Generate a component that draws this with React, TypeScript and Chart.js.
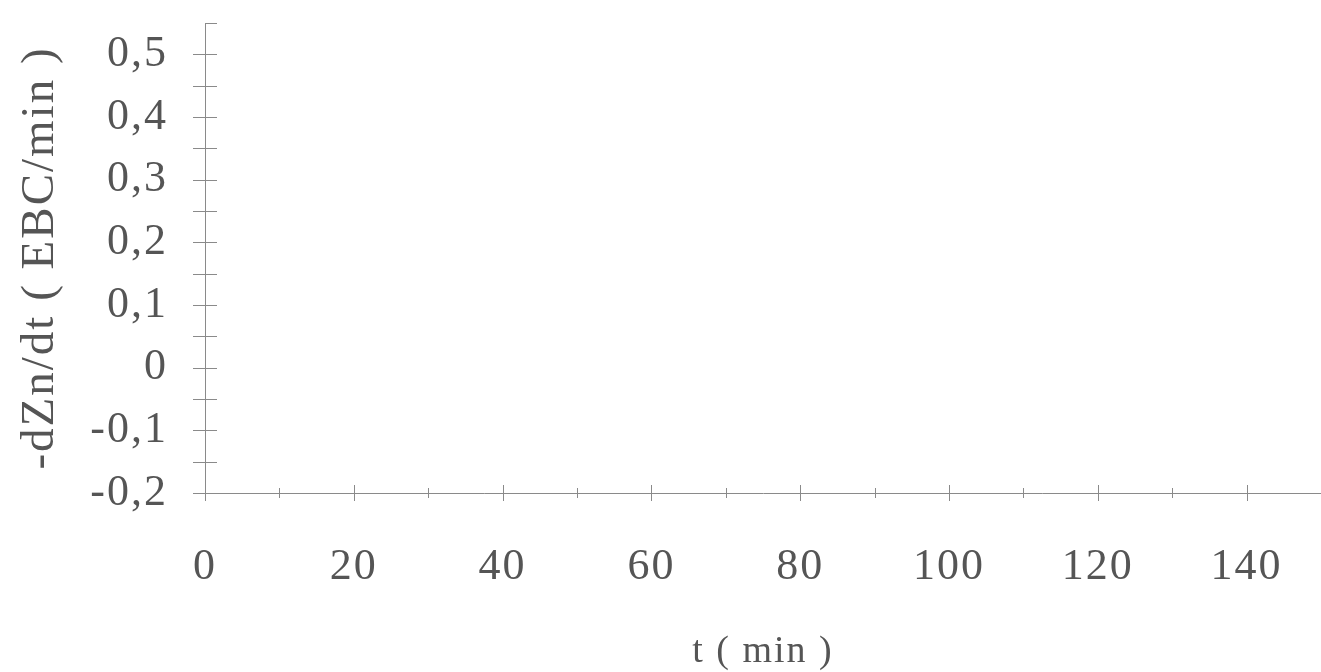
import React, { useEffect, useRef } from 'react';
import { Chart, registerables } from 'chart.js';

Chart.register(...registerables);

// ---- Data (the reference plot area holds no visible marks) ----
const xMin = 0;
const xMax = 150;
const xStep = 10;
const xLabelledTicks = [0, 20, 40, 60, 80, 100, 120, 140];

const yMin = -0.2;
const yMax = 0.55;
const yStep = 0.05;
const yLabelledTicks = ['-0,2', '-0,1', '0', '0,1', '0,2', '0,3', '0,4', '0,5'];

const seriesX: number[] = [];
const seriesY: number[] = [];

const xTitle = 't ( min )';
const yTitle = '-dZn/dt ( EBC/min )';

const FONT = '"Liberation Serif", "Times New Roman", serif';
const TEXT = '#555555';
const AXIS = '#8a8a8a';

function fmtY(v: number): string {
  const k = Math.round(v * 100);
  if (k % 10 !== 0) return '';
  const s = k === 0 ? '0' : (k / 100).toFixed(1).replace('.', ',');
  return yLabelledTicks.includes(s) ? s : '';
}

const spacing = {
  id: 'spacing',
  beforeInit(chart: any) {
    chart.ctx.letterSpacing = '2px';
  },
  beforeLayout(chart: any) {
    chart.ctx.letterSpacing = '2px';
  },
  beforeDraw(chart: any) {
    chart.ctx.letterSpacing = '2px';
  },
};

const crossTicks = {
  id: 'crossTicks',
  afterDraw(chart: any) {
    const { ctx, chartArea } = chart;
    const xs = chart.scales.x;
    const ys = chart.scales.y;
    ctx.save();
    ctx.strokeStyle = AXIS;
    ctx.lineWidth = 1;
    ctx.beginPath();
    ys.ticks.forEach((t: any) => {
      const py = Math.round(ys.getPixelForValue(t.value)) + 0.5;
      const atTop = Math.abs(t.value - yMax) < 1e-6;
      ctx.moveTo(chartArea.left - (atTop ? 0 : 12), py);
      ctx.lineTo(chartArea.left + 12, py);
    });
    xs.ticks.forEach((t: any) => {
      const px = Math.round(xs.getPixelForValue(t.value)) + 0.5;
      const major = xLabelledTicks.includes(Math.round(t.value));
      const len = major ? 8 : 5;
      ctx.moveTo(px, chartArea.bottom - len);
      ctx.lineTo(px, chartArea.bottom + len);
    });
    ctx.stroke();
    ctx.restore();
  },
};

export default function App() {
  const ref = useRef<HTMLCanvasElement | null>(null);

  useEffect(() => {
    document.body.style.margin = '0';
    const canvas = ref.current;
    if (!canvas) return;
    const chart = new Chart(canvas, {
      type: 'scatter',
      data: {
        datasets: [
          {
            label: 'dZn/dt',
            data: seriesX.map((x, i) => ({ x, y: seriesY[i] })),
            pointRadius: 2,
            backgroundColor: '#999',
            borderColor: '#999',
          },
        ],
      },
      options: {
        animation: false,
        responsive: false,
        layout: { padding: { top: 23, left: 0, right: 0, bottom: 0 } },
        plugins: {
          legend: { display: false },
          tooltip: { enabled: false },
        },
        scales: {
          x: {
            type: 'linear',
            min: xMin,
            max: xMax,
            afterFit(scale: any) {
              scale.height = 179;
              scale.paddingLeft = 0;
              scale.paddingRight = 0;
            },
            grid: {
              drawOnChartArea: false,
              drawTicks: true,
              tickLength: 8,
              color: 'rgba(0,0,0,0)',
            },
            border: { display: true, color: AXIS, width: 1 },
            ticks: {
              stepSize: xStep,
              autoSkip: false,
              maxRotation: 0,
              padding: 44,
              color: TEXT,
              font: { family: FONT, size: 44, lineHeight: 1 },
              callback: (v: any) => {
                const n = Math.round(Number(v));
                return xLabelledTicks.includes(n) ? String(n) : '';
              },
            },
            title: {
              display: true,
              text: xTitle,
              color: TEXT,
              font: { family: FONT, size: 38, lineHeight: 1 },
              padding: { top: 0, bottom: 1 },
            },
          },
          y: {
            type: 'linear',
            min: yMin,
            max: yMax,
            afterFit(scale: any) {
              scale.width = 205;
              scale.paddingTop = 0;
              scale.paddingBottom = 0;
            },
            grid: {
              drawOnChartArea: false,
              drawTicks: true,
              tickLength: 12,
              color: 'rgba(0,0,0,0)',
            },
            border: { display: true, color: AXIS, width: 1 },
            ticks: {
              stepSize: yStep,
              autoSkip: false,
              padding: 25,
              color: TEXT,
              font: { family: FONT, size: 44, lineHeight: 1 },
              callback: (v: any) => fmtY(Number(v)),
            },
            title: {
              display: true,
              text: yTitle,
              color: TEXT,
              font: { family: FONT, size: 47, lineHeight: 1.2 },
              padding: { top: 12, bottom: 0 },
            },
          },
        },
      },
      plugins: [spacing, crossTicks],
    } as any);
    return () => chart.destroy();
  }, []);

  return (
    <div style={{ position: 'absolute', left: 0, top: 0, width: 1321, height: 672 }}>
      <canvas ref={ref} width={1321} height={672} />
    </div>
  );
}
